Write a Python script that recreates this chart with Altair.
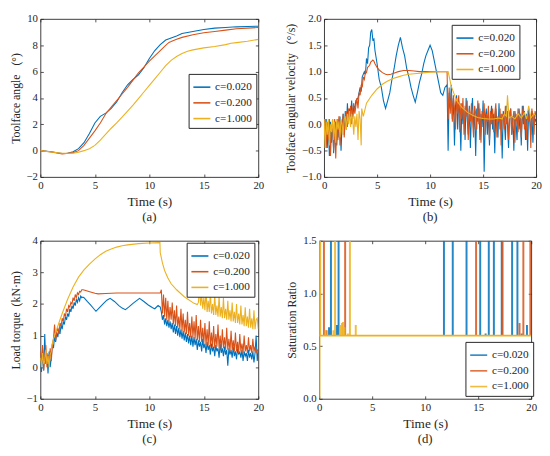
import altair as alt
import pandas as pd

FONT = "Liberation Serif"
SER = ["c=0.020", "c=0.200", "c=1.000"]
COL = ["#0072BD", "#D95319", "#EDB120"]
X_TICKS = [0, 5, 10, 15, 20]

# ---------------- panel (a): toolface angle ----------------
a_blue_t = [0, 1, 2, 2.5, 3, 3.5, 4, 4.5, 5, 5.5, 6, 6.5, 7, 7.5, 8, 8.5, 9, 9.5, 10, 10.5, 11, 11.5, 12, 12.5, 13, 14, 15, 16, 17, 18, 19, 20]
a_blue_v = [0, -0.08, -0.22, -0.2, -0.08, 0.15, 0.6, 1.3, 2.1, 2.6, 2.85, 3.2, 3.7, 4.4, 5.0, 5.4, 5.75, 6.3, 7.0, 7.6, 8.05, 8.4, 8.55, 8.7, 8.9, 9.05, 9.2, 9.3, 9.35, 9.4, 9.42, 9.45]
a_red_t = [0, 1, 2, 3, 3.5, 4, 4.5, 5, 5.5, 6, 6.5, 7, 7.5, 8, 8.5, 9, 9.5, 10, 10.5, 11, 11.5, 11.8, 12, 12.5, 13, 14, 15, 16, 17, 18, 19, 20]
a_red_v = [0, -0.1, -0.25, -0.15, 0.0, 0.4, 0.95, 1.5, 2.1, 2.8, 3.3, 3.8, 4.3, 4.8, 5.35, 5.9, 6.35, 6.8, 7.2, 7.6, 8.0, 8.22, 8.28, 8.45, 8.6, 8.8, 8.95, 9.05, 9.15, 9.25, 9.3, 9.35]
a_yel_t = [0, 1, 2, 3, 3.5, 4, 4.5, 5, 5.5, 6, 6.5, 7, 7.5, 8, 8.5, 9, 9.5, 10, 10.5, 11, 11.5, 12, 12.5, 13, 13.5, 14, 15, 16, 17, 17.5, 18, 19, 20]
a_yel_v = [0, -0.1, -0.2, -0.2, -0.12, 0.0, 0.15, 0.4, 0.8, 1.25, 1.7, 2.1, 2.55, 3.0, 3.45, 3.95, 4.45, 4.95, 5.45, 5.95, 6.45, 6.85, 7.15, 7.38, 7.55, 7.65, 7.8, 7.9, 8.05, 8.15, 8.2, 8.3, 8.45]

# ---------------- panel (b): toolface angular velocity ----------------
b_blue_head = [0.05, -0.3, 0.1, -0.45, 0.0, -0.6, 0.05, -0.35, 0.1, -0.55, -0.1, 0.05, -0.4, 0.1, -0.25, 0.15, -0.5, 0.0, 0.2, -0.2, 0.25, -0.1, 0.4, 0.05, 0.3, 0.15, 0.45, 0.1, 0.35, 0.3]
b_blue_mid_t = [3.0, 3.2, 3.4, 3.5, 3.6, 3.8, 3.9, 4.0, 4.1, 4.2, 4.3, 4.4, 4.5, 4.6, 4.7, 4.8, 5.0, 5.2, 5.4, 5.6, 5.8, 6.0, 6.2, 6.4, 6.6, 6.8, 7.0, 7.2, 7.4, 7.6, 7.8, 8.0, 8.2, 8.4, 8.6, 8.8, 9.0, 9.2, 9.4, 9.6, 9.8, 10.0, 10.2, 10.4, 10.6, 10.8, 11.0, 11.2, 11.4, 11.6]
b_blue_mid_v = [0.45, 0.5, 0.7, 0.62, 0.9, 1.0, 0.95, 1.25, 1.15, 1.45, 1.5, 1.75, 1.8, 1.6, 1.62, 1.4, 1.15, 0.85, 0.7, 0.45, 0.3, 0.45, 0.6, 0.85, 1.05, 1.3, 1.5, 1.65, 1.45, 1.3, 1.05, 0.9, 0.7, 0.55, 0.42, 0.6, 0.8, 0.95, 1.15, 1.3, 1.4, 1.5, 1.4, 1.2, 1.0, 0.8, 0.6, 0.55, 0.7, 0.75]
b_blue_tail = [-0.5, 0.6, 0.3, 0.75, 0.1, 0.5, -0.4, 0.35, 0.55, -0.1,
               0.45, 0.2, -0.5, 0.4, 0.0, 0.3, -0.3, 0.5, 0.1, -0.2,
               0.35, -0.45, 0.2, 0.5, -0.1, 0.25, -0.6, 0.3, 0.05, 0.4,
               -0.3, 0.2, -0.05, 0.45, -0.9, 0.1, 0.3, -0.2, 0.25, -0.4,
               0.15, 0.35, -0.1, 0.2, -0.55, 0.3, 0.05, -0.25, 0.4, -0.1,
               0.2, -0.65, 0.25, 0.1, -0.3, 0.35, 0.0, -0.45, 0.2, 0.3,
               -0.2, 0.15, -0.5, 0.25, 0.05, -0.3, 0.3, -0.1, 0.2, -0.4,
               0.35, 0.0, 0.25, -0.3, 0.2, -0.5, 0.3, 0.1, -0.2, 0.25,
               -0.35, 0.2, 0.05, 0.1]
b_red_head = [-0.2, 0.1, -0.45, 0.05, -0.3, 0.1, -0.6, -0.1, 0.0, -0.5, 0.1, -0.65, 0.0, -0.3, 0.15, -0.4, 0.05, -0.1, 0.2, -0.25, 0.1, 0.25, -0.05, 0.3, 0.1, 0.35, 0.0, 0.3, 0.4, 0.2]
b_red_mid_t = [3.0, 3.1, 3.2, 3.3, 3.4, 3.5, 3.6, 3.7, 3.8, 3.9, 4.0, 4.1, 4.2, 4.3, 4.4, 4.5, 4.6, 4.7, 4.8, 5.0, 5.2, 5.5, 5.8, 6.0, 6.3, 6.7, 7.0, 7.5, 8.0, 8.5, 9.0, 10.0, 11.0, 11.6]
b_red_mid_v = [0.35, 0.5, 0.3, 0.6, 0.55, 0.75, 0.7, 0.9, 0.85, 1.0, 0.98, 1.08, 1.1, 1.12, 1.18, 1.2, 1.22, 1.2, 1.15, 1.08, 1.03, 0.98, 0.95, 0.94, 0.95, 0.98, 1.0, 1.02, 1.02, 1.01, 1.0, 1.0, 1.0, 1.0]
b_red_tail = [0.1, 0.7, 0.2, 0.6, 0.05, 0.55, 0.3, -0.1, 0.5, 0.2,
              0.55, -0.15, 0.4, 0.1, 0.5, -0.2, 0.35, 0.15, 0.45, -0.3,
              0.3, 0.05, 0.4, 0.1, -0.25, 0.35, 0.2, -0.1, 0.45, 0.0,
              0.3, -0.35, 0.25, 0.1, 0.4, -0.2, 0.2, 0.05, 0.35, -0.3,
              0.25, 0.0, 0.3, -0.15, 0.2, 0.4, -0.25, 0.15, 0.05, 0.3,
              -0.4, 0.2, 0.1, -0.1, 0.35, 0.0, 0.25, -0.3, 0.15, 0.3,
              -0.2, 0.1, 0.25, -0.35, 0.2, 0.05, -0.15, 0.3, 0.1, -0.25,
              0.2, 0.35, -0.1, 0.15, -0.3, 0.25, 0.05, 0.2, -0.45, 0.3,
              0.1, -0.2, 0.25, 0.15]
b_yel_head = [0.1, -0.45, 0.05, -0.2, 0.1, -0.4, 0.0, -0.15, 0.1, -0.3, 0.05, -0.35, 0.1, -0.1, 0.05, -0.25, 0.1, 0.0, -0.2, 0.1, 0.15, -0.1, 0.2, 0.0, 0.25, -0.05, 0.2, 0.1, -0.2, 0.15]
b_yel_mid_t = [3.0, 3.1, 3.2, 3.3, 3.4, 3.5, 3.55, 3.7, 4.0, 4.5, 5.0, 5.5, 6.0, 6.5, 7.0, 7.5, 8.0, 9.0, 10.0, 11.0, 11.7, 12.0, 12.5, 13.0, 13.5, 14.0, 14.5, 15.0, 15.5, 16.0, 16.5, 16.8, 17.0, 17.2, 17.3, 17.45, 17.7, 18.0, 18.3, 18.6, 18.9, 19.1, 19.3, 19.5, 19.8, 20.0]
b_yel_mid_v = [-0.05, 0.2, -0.3, 0.25, 0.1, -0.4, 0.3, 0.15, 0.4, 0.55, 0.67, 0.76, 0.82, 0.87, 0.9, 0.93, 0.95, 0.97, 0.99, 1.0, 1.0, 0.72, 0.45, 0.32, 0.23, 0.17, 0.13, 0.11, 0.1, 0.1, 0.12, 0.1, 0.2, 0.15, 0.55, 0.12, 0.15, 0.1, 0.2, 0.12, 0.22, 0.1, 0.35, 0.12, 0.2, 0.15]

# ---------------- panel (c): load torque ----------------
c_blue_head = [0.2, -0.15, 0.6, -0.1, 1.05, 0.1, 0.45, -0.2, 0.5, 0.0, 0.3, 0.75, 0.6, 0.95, 0.8, 1.1, 0.95, 1.2, 1.05, 1.35, 1.2, 1.45, 1.35, 1.6, 1.5, 1.7, 1.6, 1.85, 1.75, 1.95, 1.85, 2.05, 1.95, 2.15, 2.05, 2.2, 2.1, 2.25, 2.2]
c_blue_mid_t = [3.9, 4.0, 4.3, 4.6, 4.9, 5.1, 5.4, 5.8, 6.1, 6.4, 6.8, 7.2, 7.5, 7.8, 8.1, 8.5, 8.8, 9.1, 9.5, 9.9, 10.3, 10.5, 10.8, 11.0]
c_blue_mid_v = [2.22, 2.2, 2.08, 1.97, 1.85, 1.77, 1.88, 2.02, 2.12, 2.18, 2.08, 1.95, 1.87, 1.82, 1.9, 2.02, 2.1, 2.18, 2.08, 1.97, 1.88, 1.85, 1.95, 1.9]
c_blue_tail = [1.75, 1.5, 1.65, 1.35, 1.55, 1.3, 1.5, 1.25, 1.45,
               1.2, 1.4, 1.1, 1.35, 1.05, 1.3, 1.0, 1.25, 0.95, 1.2,
               0.9, 1.15, 0.85, 1.1, 0.8, 1.05, 0.75, 1.0, 0.7, 1.0,
               0.65, 0.95, 0.7, 0.9, 0.55, 0.85, 0.65, 0.8, 0.5, 0.9,
               0.6, 0.75, 0.45, 0.8, 0.55, 0.7, 0.4, 0.75, 0.5, 0.65,
               0.35, 0.7, 0.5, 0.6, 0.3, 0.75, 0.45, 0.6, 0.35, 0.65,
               0.4, 0.55, 0.05, 0.6, 0.4, 0.55, 0.3, 0.65, 0.35, 0.5,
               0.25, 0.6, 0.4, 0.5, 0.3, 0.55, 0.2, 0.5, 0.35, 0.45,
               0.2, 0.55, 0.3, 0.45, 0.25, 0.5, 0.15, 0.45, 1.0, 0.2,
               0.5]
c_red_head = [0.5, 0.1, 0.7, -0.1, 0.3, 0.7, 0.0, 0.4, 0.1, 0.6, 0.2,
              0.7, 0.9, 1.35, 0.85, 1.1, 1.25, 1.05, 1.4, 1.3, 1.55, 1.45, 1.7, 1.6, 1.85, 1.75, 1.95, 1.9, 2.05, 2.0, 2.2, 2.1, 2.3, 2.2, 2.35, 2.3, 2.4, 2.38, 2.45, 2.45]
c_red_mid_t = [4.0, 4.3, 4.6, 5.0, 5.3, 6.0, 7.0, 8.0, 9.0, 10.0, 11.0]
c_red_mid_v = [2.44, 2.41, 2.38, 2.34, 2.32, 2.33, 2.35, 2.35, 2.35, 2.35, 2.35]
c_red_tail = [2.45, 1.7, 2.3, 1.6, 2.2, 1.5, 2.1, 1.45, 1.9,
              1.5, 2.05, 1.35, 1.8, 1.3, 1.95, 1.25, 1.6, 1.2, 1.85,
              1.15, 1.7, 1.1, 1.5, 1.05, 1.75, 1.0, 1.4, 0.95, 1.6,
              0.95, 1.45, 0.9, 1.65, 0.85, 1.3, 0.8, 1.5, 0.8, 1.25,
              0.75, 1.4, 0.7, 1.2, 0.7, 1.45, 0.65, 1.1, 0.65, 1.3,
              0.6, 1.05, 0.65, 1.35, 0.6, 1.0, 0.55, 1.2, 0.6, 0.95,
              0.55, 1.25, 0.55, 0.9, 0.5, 1.15, 0.55, 0.85, 0.5, 1.1,
              0.5, 0.8, 0.45, 1.05, 0.5, 0.75, 0.45, 1.0, 0.5, 0.7,
              0.45, 0.95, 0.5, 0.7, 0.45, 0.9, 0.5, 0.65, 0.45, 0.55,
              0.5]
c_yel_head = [0.3, 0.0, 0.45, 0.1, 0.2, 0.55, 0.1, 0.35, 0.0, 0.4, 0.5, 0.75]
c_yel_mid_t = [1.2, 1.5, 1.8, 2.0, 2.5, 3.0, 3.5, 4.0, 4.5, 5.0, 5.5, 6.0, 6.5, 7.0, 7.5, 8.0, 9.0, 10.0, 10.97, 11.0, 11.2, 11.4, 11.7, 12.0, 12.5, 13.2, 14.1, 14.4]
c_yel_mid_v = [0.9, 1.2, 1.5, 1.7, 2.15, 2.54, 2.85, 3.08, 3.26, 3.42, 3.56, 3.67, 3.74, 3.8, 3.84, 3.87, 3.91, 3.93, 3.94, 3.62, 3.3, 3.06, 2.82, 2.64, 2.45, 2.23, 2.02, 1.98]
c_yel_tail = [2.05, 2.5, 1.95, 2.3, 1.85,
              2.2, 1.8, 2.45, 1.75, 2.1, 1.75, 2.35, 1.7, 2.0, 1.65,
              2.3, 1.65, 1.95, 1.6, 2.25, 1.6, 1.9, 1.55, 2.2, 1.55,
              1.85, 1.5, 2.1, 1.5, 1.8, 1.45, 2.05, 1.45, 1.75, 1.4,
              2.0, 1.4, 1.7, 1.35, 1.95, 1.35, 1.65, 1.3, 1.9, 1.3,
              1.6, 1.25, 1.85, 1.25, 1.55, 1.2, 1.8, 1.2, 1.5, 1.55,
              1.2]

# ---------------- panel (d): saturation ratio ----------------
d_base = 0.6
d_blue_t = [0.93, 1.11, 1.68, 1.83, 11.77, 12.6, 13.9, 15.19, 15.7, 16.0, 16.48, 17.22, 18.2, 18.7, 19.1, 19.6]
d_blue_h = [0.68, 1.5, 0.7, 1.5, 1.5, 1.5, 1.5, 1.5, 0.62, 1.5, 1.5, 1.5, 1.5, 1.5, 0.62, 0.7]
d_red_t = [0.45, 0.7, 2.45, 14.8, 17.3, 18.9, 19.26, 19.92]
d_red_h = [1.5, 0.65, 1.5, 1.5, 1.5, 0.72, 1.5, 1.5]
d_yel_t = [0.03, 0.1, 0.6, 1.35, 1.5, 2.0, 2.15, 2.25, 2.4, 2.7, 2.9, 3.45]
d_yel_lo = [0.0, 0.6, 0.6, 0.6, 0.6, 0.6, 0.6, 0.6, 0.6, 0.6, 0.6, 0.6]
d_yel_h = [1.5, 1.5, 0.65, 0.65, 1.5, 0.7, 0.72, 0.73, 0.68, 0.62, 1.5, 0.7]


def grid(start, vals):
    return [round(start + 0.1 * i, 3) for i in range(len(vals))]


def series(name, *parts):
    rows = []
    for ts, vs in parts:
        for t, v in zip(ts, vs):
            if 0 <= t <= 20:
                rows.append({"t": t, "v": v, "s": name})
    return rows


df_a = pd.DataFrame(series(SER[0], (a_blue_t, a_blue_v)) +
                    series(SER[1], (a_red_t, a_red_v)) +
                    series(SER[2], (a_yel_t, a_yel_v)))
df_b = pd.DataFrame(series(SER[0], (grid(0, b_blue_head), b_blue_head), (b_blue_mid_t, b_blue_mid_v), (grid(11.7, b_blue_tail), b_blue_tail)) +
                    series(SER[1], (grid(0, b_red_head), b_red_head), (b_red_mid_t, b_red_mid_v), (grid(11.7, b_red_tail), b_red_tail)) +
                    series(SER[2], (grid(0, b_yel_head), b_yel_head), (b_yel_mid_t, b_yel_mid_v)))
df_c = pd.DataFrame(series(SER[0], (grid(0, c_blue_head), c_blue_head), (c_blue_mid_t, c_blue_mid_v), (grid(11.1, c_blue_tail), c_blue_tail)) +
                    series(SER[1], (grid(0, c_red_head), c_red_head), (c_red_mid_t, c_red_mid_v), (grid(11.1, c_red_tail), c_red_tail)) +
                    series(SER[2], (grid(0, c_yel_head), c_yel_head), (c_yel_mid_t, c_yel_mid_v), (grid(14.5, c_yel_tail), c_yel_tail)))

d_rows = []
for t, h in zip(d_blue_t, d_blue_h):
    d_rows.append({"t": t, "lo": d_base, "hi": h, "s": SER[0]})
for t, h in zip(d_red_t, d_red_h):
    d_rows.append({"t": t, "lo": d_base, "hi": h, "s": SER[1]})
for t, lo, h in zip(d_yel_t, d_yel_lo, d_yel_h):
    d_rows.append({"t": t, "lo": lo, "hi": h, "s": SER[2]})
df_d = pd.DataFrame(d_rows)
df_d_base = pd.DataFrame([{"t": 0, "t2": 20, "lo": d_base, "s": SER[2]}])

COLOR_SCALE = alt.Scale(domain=SER, range=COL)
WL, WR, H = 222, 216, 161
XSCALE = alt.Scale(domain=[0, 20], nice=False, zero=False)


def xenc(field="t", top=False, noaxis=False):
    if noaxis:
        return alt.X(f"{field}:Q", scale=XSCALE, axis=None)
    if top:
        ax = alt.Axis(orient="top", values=X_TICKS, labels=False, title=None, minExtent=0, maxExtent=0)
    else:
        ax = alt.Axis(values=X_TICKS, title="Time (s)")
    return alt.X(f"{field}:Q", scale=XSCALE, axis=ax)


def yenc(field, ydom, yvals, ytitle=None, right=False, noaxis=False):
    sc = alt.Scale(domain=ydom, nice=False, zero=False)
    if noaxis:
        return alt.Y(f"{field}:Q", scale=sc, axis=None)
    if right:
        ax = alt.Axis(orient="right", values=yvals, labels=False, title=None, minExtent=0, maxExtent=0)
    else:
        ax = alt.Axis(values=yvals, title=ytitle)
    return alt.Y(f"{field}:Q", scale=sc, axis=ax)


def legend(lx, ly):
    return alt.Legend(orient="none", legendX=lx, legendY=ly, title=None)


def finish(layers, sub, w):
    return alt.layer(*layers).resolve_axis(x="independent", y="independent").properties(
        width=w, height=H,
        title=alt.TitleParams(sub, orient="bottom", font=FONT, fontSize=13, fontWeight="normal", offset=3, color="#262626"))


def line_panel(df, ytitle, ydom, yvals, sub, lx, ly, w):
    base = alt.Chart(df)
    lines = base.mark_line(strokeWidth=1.1, clip=True).encode(
        x=xenc(),
        y=yenc("v", ydom, yvals, ytitle),
        color=alt.Color("s:N", scale=COLOR_SCALE, legend=legend(lx, ly)),
    )
    mirror = base.mark_point(opacity=0).encode(x=xenc(top=True), y=yenc("v", ydom, yvals, right=True))
    return finish([lines, mirror], sub, w)


NB = "\u00a0"
pa = line_panel(df_a, f"Toolface angle{NB}{NB}{NB}(°)", [-2, 10], [-2, 0, 2, 4, 6, 8, 10], "(a)", 151, 56, WL)
pb = line_panel(df_b, f"Toolface angular velocity{NB}{NB}{NB}(°/s)", [-1, 2], [-1, -0.5, 0, 0.5, 1, 1.5, 2], "(b)", 130, 6, WR)
pc = line_panel(df_c, f"Load torque{NB}{NB}(kN·m)", [-1, 4], [-1, 0, 1, 2, 3, 4], "(c)", 149, 2, WL)

d_ydom, d_yvals = [0, 1.5], [0, 0.5, 1, 1.5]
spikes = alt.Chart(df_d).mark_rule(strokeWidth=2, opacity=0.85, clip=True).encode(
    x=xenc(),
    y=yenc("lo", d_ydom, d_yvals, "Saturation Ratio"),
    y2="hi:Q",
    color=alt.Color("s:N", scale=COLOR_SCALE, legend=legend(149, 103)),
)
baseline = alt.Chart(df_d_base).mark_rule(strokeWidth=1.6, clip=True).encode(
    x=xenc(noaxis=True), x2="t2:Q", y=yenc("lo", d_ydom, d_yvals, noaxis=True),
    color=alt.Color("s:N", scale=COLOR_SCALE, legend=legend(149, 103)),
)
mirror_d = alt.Chart(df_d).mark_point(opacity=0).encode(x=xenc(top=True), y=yenc("hi", d_ydom, d_yvals, right=True))
pd_ = finish([spikes, baseline, mirror_d], "(d)", WR)

row1 = alt.hconcat(pa, pb, spacing=20).resolve_scale(color="independent").resolve_legend(color="independent")
row2 = alt.hconcat(pc, pd_, spacing=21).resolve_scale(color="independent").resolve_legend(color="independent")
chart = alt.vconcat(row1, row2, spacing=10).resolve_scale(color="independent").resolve_legend(color="independent")

chart = chart.properties(
    padding={"left": 0, "top": 0, "right": 0, "bottom": 0},
    background="white",
).configure_view(
    stroke="#262626", strokeWidth=0.9
).configure_axis(
    labelFont=FONT, labelFontSize=11, labelColor="#262626", labelFlush=False,
    titleFont=FONT, titleFontWeight="normal", titleColor="#262626",
    domain=False, grid=False, ticks=True, tickSize=3, tickColor="#262626", tickWidth=0.8,
    offset=-3, labelPadding=3, titlePadding=4,
).configure_axisX(
    titleFontSize=13.5
).configure_axisY(
    titleFontSize=12
).configure_legend(
    labelFont=FONT, labelFontSize=11.5, labelColor="#262626",
    symbolType="stroke", symbolSize=300, symbolStrokeWidth=1.6,
    strokeColor="#262626", fillColor="white", padding=4, rowPadding=1, labelOffset=4,
)

chart.save("out.html", embed_options={"renderer": "svg", "actions": False})
